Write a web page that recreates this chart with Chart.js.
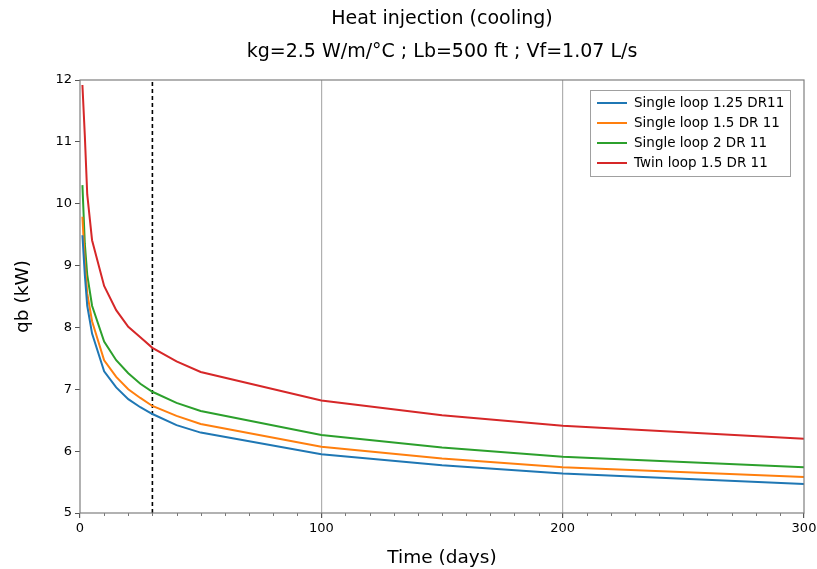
<!DOCTYPE html>
<html>
<head>
<meta charset="utf-8">
<script src="https://cdn.jsdelivr.net/npm/chart.js@4.4.0/dist/chart.umd.min.js"></script>
<style>
    html, body { margin: 0; padding: 0; background: #fff; }
    #wrap { width: 817px; height: 569px; }
</style>
</head>
<body>
<div id="wrap"><canvas id="heatChart" width="817" height="569"></canvas></div>
<script>
// time in days
const days = [1, 2, 3, 5, 10, 15, 20, 25, 30, 40, 50, 100, 150, 200, 300];
// qb (kW)
const single125 = [9.49, 8.85, 8.35, 7.90, 7.29, 7.03, 6.84, 6.71, 6.60, 6.42, 6.30, 5.95, 5.77, 5.64, 5.47];
const single15  = [9.79, 9.05, 8.55, 8.10, 7.47, 7.20, 7.00, 6.86, 6.73, 6.57, 6.44, 6.07, 5.88, 5.74, 5.58];
const single2   = [10.30, 9.35, 8.85, 8.35, 7.77, 7.47, 7.26, 7.09, 6.96, 6.78, 6.65, 6.26, 6.06, 5.91, 5.74];
const twin15    = [11.92, 11.10, 10.15, 9.41, 8.67, 8.28, 8.01, 7.84, 7.67, 7.45, 7.28, 6.82, 6.58, 6.41, 6.20];
const seriesLabels = ['Single loop 1.25 DR11', 'Single loop 1.5 DR 11', 'Single loop 2 DR 11', 'Twin loop 1.5 DR 11'];
const seriesColors = ['#1f77b4', '#ff7f0e', '#2ca02c', '#d62728'];
const markerDay = 30;
const xTicks = [0, 100, 200, 300];
const yTicks = [5, 6, 7, 8, 9, 10, 11, 12];

const FONT = 'DejaVu Sans';

function toPoints(vals) {
    return days.map(function (d, i) { return { x: d, y: vals[i] }; });
}

const frameAndExtras = {
    id: 'frameAndExtras',
    afterDraw: function (chart) {
        const ctx = chart.ctx;
        const a = chart.chartArea;
        const xs = chart.scales.x;
        ctx.save();
        // minor ticks every 10 days
        ctx.strokeStyle = '#555';
        ctx.lineWidth = 0.8;
        for (let v = 10; v < 300; v += 10) {
            if (v % 100 === 0) continue;
            const px = Math.round(xs.getPixelForValue(v)) + 0.5;
            ctx.beginPath();
            ctx.moveTo(px, a.bottom);
            ctx.lineTo(px, a.bottom + 3);
            ctx.stroke();
        }
        // axes frame
        ctx.strokeStyle = '#7f7f7f';
        ctx.lineWidth = 1.2;
        ctx.strokeRect(a.left, a.top, a.right - a.left, a.bottom - a.top);

        // titles, centred on the axes
        const cx = (a.left + a.right) / 2;
        ctx.fillStyle = '#000';
        ctx.textAlign = 'center';
        ctx.textBaseline = 'middle';
        ctx.font = '19px "' + FONT + '"';
        ctx.fillText('Heat injection (cooling)', cx, 19);
        ctx.fillText('kg=2.5 W/m/°C ; Lb=500 ft ; Vf=1.07 L/s', cx, 52);

        // legend box
        const bx = 590, by = 90, bw = 200, bh = 86;
        ctx.fillStyle = 'rgba(255,255,255,0.9)';
        ctx.fillRect(bx, by, bw, bh);
        ctx.strokeStyle = '#a0a0a0';
        ctx.lineWidth = 1;
        ctx.strokeRect(bx + 0.5, by + 0.5, bw, bh);
        ctx.font = '13.5px "' + FONT + '"';
        ctx.textAlign = 'left';
        seriesLabels.forEach(function (lab, i) {
            const ry = by + 13 + i * 20;
            ctx.strokeStyle = seriesColors[i];
            ctx.lineWidth = 2;
            ctx.beginPath();
            ctx.moveTo(bx + 7, ry);
            ctx.lineTo(bx + 37, ry);
            ctx.stroke();
            ctx.fillStyle = '#000';
            ctx.fillText(lab, bx + 44, ry);
        });
        ctx.restore();
    }
};

const datasets = [single125, single15, single2, twin15].map(function (vals, i) {
    return {
        label: seriesLabels[i],
        data: toPoints(vals),
        borderColor: seriesColors[i],
        backgroundColor: seriesColors[i],
        borderWidth: 2,
        pointRadius: 0,
        tension: 0,
        fill: false
    };
});
datasets.push({
    label: 'marker',
    data: [{ x: markerDay, y: yTicks[0] }, { x: markerDay, y: yTicks[yTicks.length - 1] }],
    borderColor: '#000',
    borderWidth: 1.6,
    borderDash: [4, 3],
    pointRadius: 0,
    fill: false
});

new Chart(document.getElementById('heatChart'), {
    type: 'line',
    data: { datasets: datasets },
    options: {
        responsive: false,
        animation: false,
        layout: { padding: { top: 80, right: 13, left: 0, bottom: 0 } },
        plugins: {
            legend: { display: false },
            tooltip: { enabled: false },
            title: { display: false }
        },
        scales: {
            x: {
                type: 'linear',
                min: 0,
                max: 300,
                afterFit: function (scale) {
                    scale.height = 56;
                    scale.paddingLeft = 0;
                    scale.paddingRight = 0;
                },
                afterBuildTicks: function (scale) {
                    scale.ticks = xTicks.map(function (v) { return { value: v }; });
                },
                ticks: {
                    color: '#000',
                    font: { family: FONT, size: 13 },
                    padding: 3,
                    maxRotation: 0
                },
                grid: {
                    color: function (c) {
                        const v = c.tick ? c.tick.value : null;
                        return (v === 100 || v === 200) ? '#b0b0b0' : 'rgba(0,0,0,0)';
                    },
                    lineWidth: 1.2,
                    tickColor: '#555',
                    tickLength: 5
                },
                border: { display: false },
                title: {
                    display: true,
                    text: 'Time (days)',
                    color: '#000',
                    font: { family: FONT, size: 18.5 },
                    padding: { top: 4, bottom: 0 }
                }
            },
            y: {
                min: 5,
                max: 12,
                afterFit: function (scale) {
                    scale.width = 80;
                    scale.paddingTop = 0;
                    scale.paddingBottom = 0;
                },
                afterBuildTicks: function (scale) {
                    scale.ticks = yTicks.map(function (v) { return { value: v }; });
                },
                ticks: {
                    color: '#000',
                    font: { family: FONT, size: 13 },
                    padding: 3
                },
                grid: {
                    drawOnChartArea: false,
                    tickColor: '#555',
                    tickLength: 5
                },
                border: { display: false },
                title: {
                    display: true,
                    text: 'qb (kW)',
                    color: '#000',
                    font: { family: FONT, size: 18.5 },
                    padding: { top: 12, bottom: 0 }
                }
            }
        }
    },
    plugins: [frameAndExtras]
});
</script>
</body>
</html>
